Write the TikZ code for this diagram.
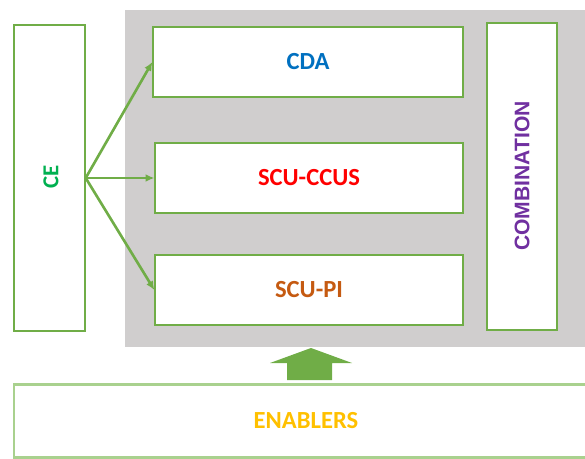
\documentclass[tikz,border=0pt]{standalone}
\usepackage{fontspec}
\setmainfont{Carlito}
\newfontfamily\arialfont{Liberation Sans}
\usepackage[]{xcolor}
\usepackage{tikz}
\usetikzlibrary{arrows.meta}

\definecolor{boxgreen}{HTML}{70AD47}
\definecolor{palegreen}{HTML}{A9D18E}
\definecolor{panelgray}{HTML}{D0CECE}
\definecolor{cegreen}{HTML}{00B050}
\definecolor{cdablue}{HTML}{0070C0}
\definecolor{ccusred}{HTML}{FF0000}
\definecolor{piorange}{HTML}{C55A11}
\definecolor{combpurple}{HTML}{7030A0}
\definecolor{enabgold}{HTML}{FFC000}

\tikzset{
    greenbox/.style={draw=boxgreen, line width=.8pt, fill=white,
        inner sep=0pt, font=\bfseries\fontsize{14}{16}\selectfont},
    feed/.style={draw=boxgreen, line width=1.5pt, -{Latex[length=5pt,width=4.5pt]}}
}

\begin{document}
\begin{tikzpicture}[x=.02cm, y=-.02cm]
    \useasboundingbox (0,0) rectangle (585,459);
    \fill[panelgray]    (125,10) rectangle (585,347);
    % left and right columns
    \node[greenbox, minimum width=1.42cm, minimum height=6.12cm] (ce) at (49.5,178) {};
    \node[text=cegreen, rotate=90, font=\bfseries\fontsize{13}{15}\selectfont] (celabel) at (51,177) {CE};
    \node[greenbox, minimum width=1.4cm, minimum height=6.14cm] (comb) at (522,176.5) {};
    \node[text=combpurple, rotate=90, font=\arialfont\bfseries\fontsize{12}{14}\selectfont] (comblabel) at (522,176) {COMBINATION};
    % middle boxes
    \node[greenbox, minimum width=6.2cm, minimum height=1.4cm, text=cdablue] (cda) at (308,62) {CDA};
    \node[greenbox, minimum width=6.16cm, minimum height=1.4cm, text=ccusred] (ccus) at (309,178) {SCU-CCUS};
    \node[greenbox, minimum width=6.16cm, minimum height=1.4cm, text=piorange] (pi) at (309,290) {SCU-PI};
    \draw[feed]    (ce.east) -- (cda.west);
    \draw[feed]    (ce.east) -- (ccus.west);
    \draw[feed]    (ce.east) -- (pi.west);
    % bottom
    \node[draw=palegreen, line width=1.6pt, minimum width=11.8cm, minimum height=1.46cm,
        inner sep=0pt] (enab) at (309,421) {};
    \node[text=enabgold, font=\bfseries\fontsize{14}{16}\selectfont] (enablabel) at (306,421) {ENABLERS};
    \fill[boxgreen]    (287,380) -- (287,363) -- (270,363) -- (311,348) -- (352,363) -- (332,363) -- (332,380) -- cycle;
\end{tikzpicture}
\end{document}
